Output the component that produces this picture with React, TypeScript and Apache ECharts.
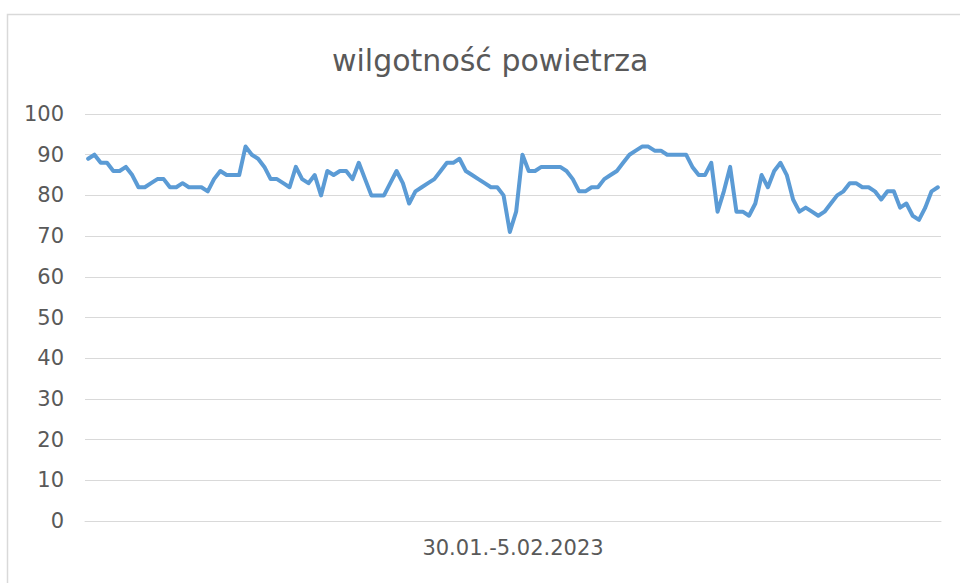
import React, { useEffect, useRef } from "react";
import * as echarts from "echarts";

const titleText = "wilgotność powietrza";
const periodLabel = "30.01.-5.02.2023";
const yTicks = [0, 10, 20, 30, 40, 50, 60, 70, 80, 90, 100];
const humidity = [
  89, 90, 88, 88, 86, 86, 87, 85, 82, 82, 83, 84, 84, 82, 82, 83, 82, 82, 82, 81,
  84, 86, 85, 85, 85, 92, 90, 89, 87, 84, 84, 83, 82, 87, 84, 83, 85, 80, 86, 85,
  86, 86, 84, 88, 84, 80, 80, 80, 83, 86, 83, 78, 81, 82, 83, 84, 86, 88, 88, 89,
  86, 85, 84, 83, 82, 82, 80, 71, 76, 90, 86, 86, 87, 87, 87, 87, 86, 84, 81, 81,
  82, 82, 84, 85, 86, 88, 90, 91, 92, 92, 91, 91, 90, 90, 90, 90, 87, 85, 85, 88,
  76, 81, 87, 76, 76, 75, 78, 85, 82, 86, 88, 85, 79, 76, 77, 76, 75, 76, 78, 80,
  81, 83, 83, 82, 82, 81, 79, 81, 81, 77, 78, 75, 74, 77, 81, 82,
];
const categories = humidity.map((_, i) => String(i + 1));

export default function App() {
  const ref = useRef<HTMLDivElement>(null);
  useEffect(() => {
    document.body.style.margin = "0";
    const chart = echarts.init(ref.current!, undefined, { renderer: "svg" });
    chart.setOption({
      animation: false,
      backgroundColor: "#ffffff",
      textStyle: { fontFamily: "DejaVu Sans" },
      title: {
        text: titleText,
        left: 327,
        top: 40,
        textStyle: { fontSize: 30, fontWeight: "normal", color: "#595959", fontFamily: "DejaVu Sans" },
      },
      graphic: [
        {
          type: "rect",
          shape: { x: 7.5, y: 14.5, width: 1000, height: 700 },
          style: { fill: "none", stroke: "#d9d9d9", lineWidth: 1.5 },
          silent: true,
        },
      ],
      grid: { left: 85, right: 19, top: 114, bottom: 62, containLabel: false },
      xAxis: {
        type: "category",
        data: categories,
        boundaryGap: true,
        name: periodLabel,
        nameLocation: "middle",
        nameGap: 16,
        nameTextStyle: { fontSize: 21, color: "#595959", fontFamily: "DejaVu Sans", verticalAlign: "top" },
        axisLine: { show: true, lineStyle: { color: "#d9d9d9", width: 1 } },
        axisTick: { show: false },
        axisLabel: { show: false },
        splitLine: { show: false },
      },
      yAxis: {
        type: "value",
        min: yTicks[0],
        max: yTicks[yTicks.length - 1],
        interval: 10,
        axisLine: { show: false },
        axisTick: { show: false },
        axisLabel: { fontSize: 21, color: "#595959", margin: 21, fontFamily: "DejaVu Sans" },
        splitLine: { lineStyle: { color: "#d9d9d9", width: 1 } },
      },
      series: [
        {
          type: "line",
          data: humidity,
          showSymbol: false,
          symbol: "none",
          lineStyle: { color: "#5b9bd5", width: 4, cap: "round", join: "round" },
          itemStyle: { color: "#5b9bd5" },
        },
      ],
    });
    return () => chart.dispose();
  }, []);
  return <div ref={ref} style={{ width: 960, height: 583 }} />;
}
